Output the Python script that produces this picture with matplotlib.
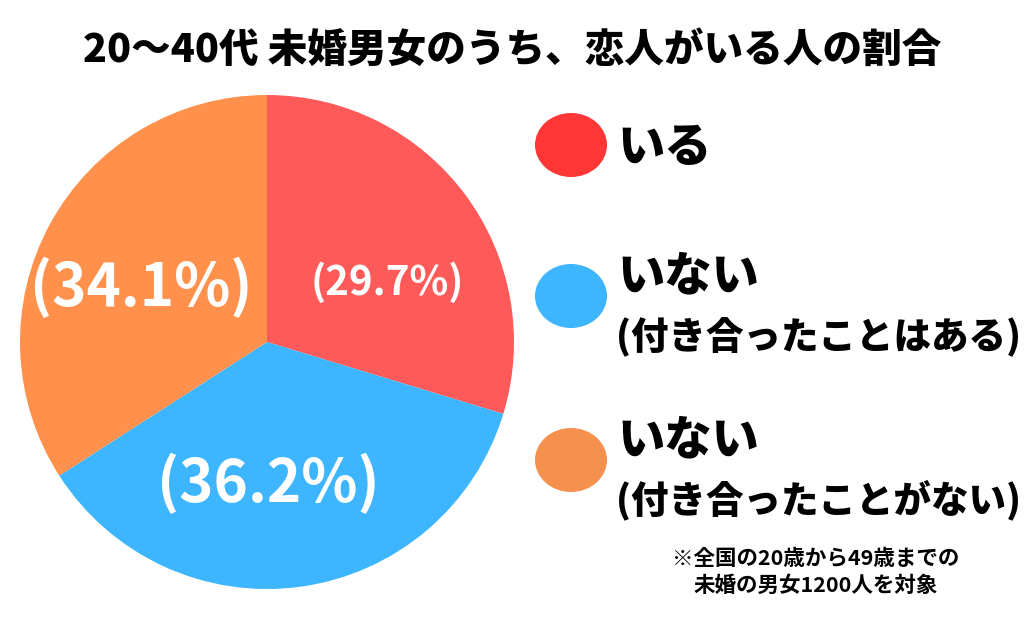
import matplotlib
matplotlib.use("Agg")
import matplotlib.pyplot as plt
from matplotlib.patches import Ellipse

plt.rcParams['font.family'] = ['Noto Sans CJK JP', 'DejaVu Sans']

title = "20〜40代 未婚男女のうち、恋人がいる人の割合"
categories = ["いる", "いない\n(付き合ったことはある)", "いない\n(付き合ったことがない)"]
values = [29.7, 36.2, 34.1]
pie_colors = ["#FF5A5A", "#3DB5FF", "#FF914D"]
legend_colors = ["#FF3636", "#3DB5FF", "#F5904E"]
value_labels = ["(29.7%)", "(36.2%)", "(34.1%)"]
note = "※全国の20歳から49歳までの\n未婚の男女1200人を対象"

W, H = 1024, 633
fig = plt.figure(figsize=(W / 100, H / 100), dpi=100)
ax = fig.add_axes([0, 0, 1, 1])

cx, cy, r = 267, H - 342, 247
wedges, _ = ax.pie(values, colors=pie_colors, startangle=90, counterclock=False,
                   center=(cx, cy), radius=r, frame=True,
                   wedgeprops=dict(linewidth=0))
ax.set_xlim(0, W)
ax.set_ylim(0, H)
ax.set_aspect('equal')
ax.axis('off')

# value labels
label_pos = [(387, H - 283), (268, H - 484), (141, H - 288)]
label_sizes = [29, 42, 42]
for (x, y), t, s in zip(label_pos, value_labels, label_sizes):
    ax.text(x, y, t, ha='center', va='center', color='white',
            fontsize=s, fontweight='bold')

# title
ax.text(512, H - 50, title, ha='center', va='center', fontsize=28.5,
        fontweight='heavy', color='black')

# legend
legend_y = [145, 296, 460]
for yy, c, lab in zip(legend_y, legend_colors, categories):
    ax.add_patch(Ellipse((571, H - yy), 72, 64, color=c, lw=0))
    lines = lab.split("\n")
    if len(lines) == 1:
        ax.text(618, H - (yy + 3), lines[0], ha='left', va='center', fontsize=34,
                fontweight='heavy', color='black')
    else:
        ax.text(618, H - (yy - 20), lines[0], ha='left', va='center', fontsize=34,
                fontweight='heavy', color='black')
        ax.text(616, H - (yy + 40), lines[1], ha='left', va='center', fontsize=27,
                fontweight='heavy', color='black')

ax.text(816, H - 572, note, ha='center', va='center', fontsize=15.5,
        fontweight='bold', color='black', linespacing=1.4)

fig.savefig("out.png", dpi=100, facecolor='white')
